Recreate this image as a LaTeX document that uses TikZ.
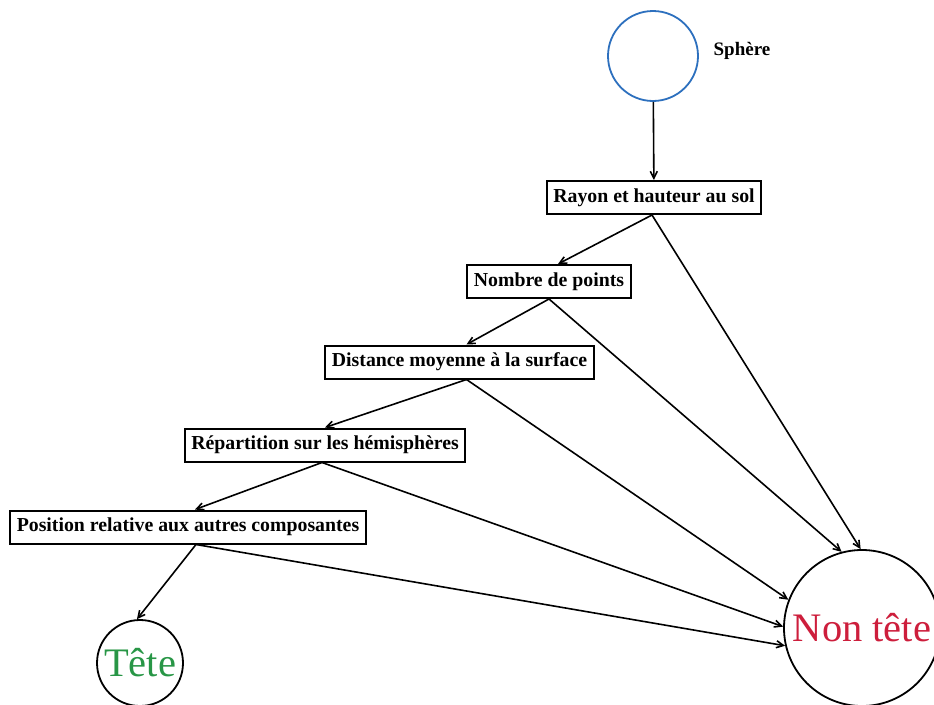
\documentclass[tikz,border=0pt]{standalone}
\usepackage{fontspec}
\setmainfont{Liberation Serif}
\usetikzlibrary{arrows.meta,calc}
\definecolor{sphereblue}{RGB}{45,112,190}
\definecolor{tetegreen}{RGB}{40,150,70}
\definecolor{nonred}{RGB}{205,30,60}

\begin{document}
\begin{tikzpicture}
	[x=1pt,y=-1pt,
	 test/.style={draw,line width=2pt,inner xsep=6.5pt,minimum height=33pt,
		font=\fontsize{19.8}{22}\selectfont\bfseries},
	 leaf/.style={draw,circle,line width=1.8pt,inner sep=0pt,
		font=\fontsize{40.5}{44}\selectfont},
	 edge/.style={-{Straight Barb[length=7pt,width=7pt]},line width=1.6pt}]
	\useasboundingbox (0,0) rectangle (934,704);
	% root of the tree
	\node[draw=sphereblue,circle,line width=1.8pt,minimum size=90pt] (S) at (653,56) {};
	\node[font=\fontsize{19}{21}\selectfont\bfseries] (SL) at (742,51) {Sphère};
	%
	% successive tests
	%
	\node[test] (T1) at (654,197.5) {Rayon et hauteur au sol};
	\node[test] (T2) at (549,281.5) {Nombre de points};
	\node[test] (T3) at (459.5,362) {Distance moyenne à la surface};
	\node[test] (T4) at (325,445) {Répartition sur les hémisphères};
	\node[test] (T5) at (188,527) {Position relative aux autres composantes};
	%
	% leaves
	%
	\node[leaf,minimum size=86pt,text=tetegreen] (H) at (140,663) {Tête};
	\node[leaf,minimum size=156pt,text=nonred] (N) at (862,628) {Non tête};

	% yes branches
	\draw[edge] (S) -- (T1);
	\draw[edge] ([xshift=-2pt]T1.south) -- ([xshift=9pt]T2.north);
	\draw[edge] (T2.south) -- ([xshift=7pt]T3.north);
	\draw[edge] ([xshift=7pt]T3.south) -- (T4.north);
	\draw[edge] ([xshift=-3pt]T4.south) -- ([xshift=7pt]T5.north);
	\draw[edge] ([xshift=8pt]T5.south) -- (H.94);
	% no branches
	\draw[edge] ([xshift=-2pt]T1.south) -- (N.91);
	\draw[edge] (T2.south) -- (N.105);
	\draw[edge] ([xshift=7pt]T3.south) -- (N.159);
	\draw[edge] ([xshift=-3pt]T4.south) -- (N.179);
	\draw[edge] ([xshift=8pt]T5.south) -- (N.193);

\end{tikzpicture}
\end{document}
